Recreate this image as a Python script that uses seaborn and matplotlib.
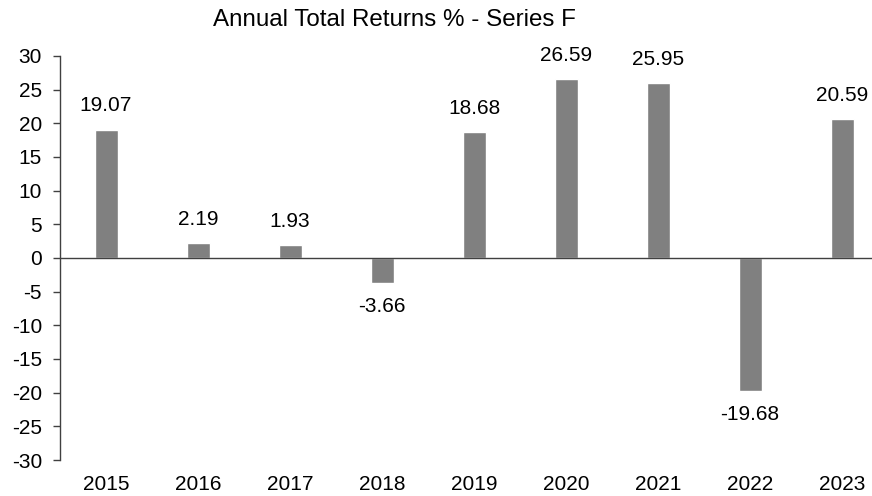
import pandas as pd
import matplotlib
matplotlib.use("Agg")
import matplotlib.pyplot as plt
import seaborn as sns

anos = ["2015", "2016", "2017", "2018", "2019", "2020", "2021", "2022", "2023"]
retornos = [19.07, 2.19, 1.93, -3.66, 18.68, 26.59, 25.95, -19.68, 20.59]

df = pd.DataFrame({"ano": anos, "retorno": retornos})

sns.set_style("white")
plt.rcParams["font.family"] = ["Liberation Sans", "DejaVu Sans"]
plt.rcParams["axes.unicode_minus"] = False

fig = plt.figure(figsize=(8.72, 4.96), dpi=100)
ax = fig.add_axes([60 / 872, 1 - 460 / 496, 812 / 872, 404 / 496])

sns.barplot(data=df, x="ano", y="retorno", color="#808080", width=0.25,
            saturation=1, ax=ax)

ax.set_xlim(-0.5, 8.326)
ax.set_ylim(-30, 30)
ax.set_yticks(range(-30, 31, 5))
ax.set_xlabel("")
ax.set_ylabel("")

for s in ["top", "right", "bottom"]:
    ax.spines[s].set_visible(False)
ax.spines["left"].set_color("#404040")
ax.spines["left"].set_linewidth(1)
ax.axhline(0, color="#404040", lw=1)

ax.tick_params(axis="y", length=5, width=1, color="#404040", pad=8,
               labelsize=15, left=True, direction="out", labelcolor="black")
ax.tick_params(axis="x", length=0, pad=11, labelsize=15, labelcolor="black")

# rotulos nas barras
for i, v in enumerate(retornos):
    ax.annotate(f"{v:.2f}", (i, v), xytext=(0, 17 if v >= 0 else -17),
                textcoords="offset points", ha="center", va="center",
                fontsize=15, color="black")

fig.text(394 / 872, 1 - 20 / 496, "Annual Total Returns % - Series F",
         ha="center", va="center", fontsize=17.4, color="black")

fig.savefig("out.png", dpi=100)
